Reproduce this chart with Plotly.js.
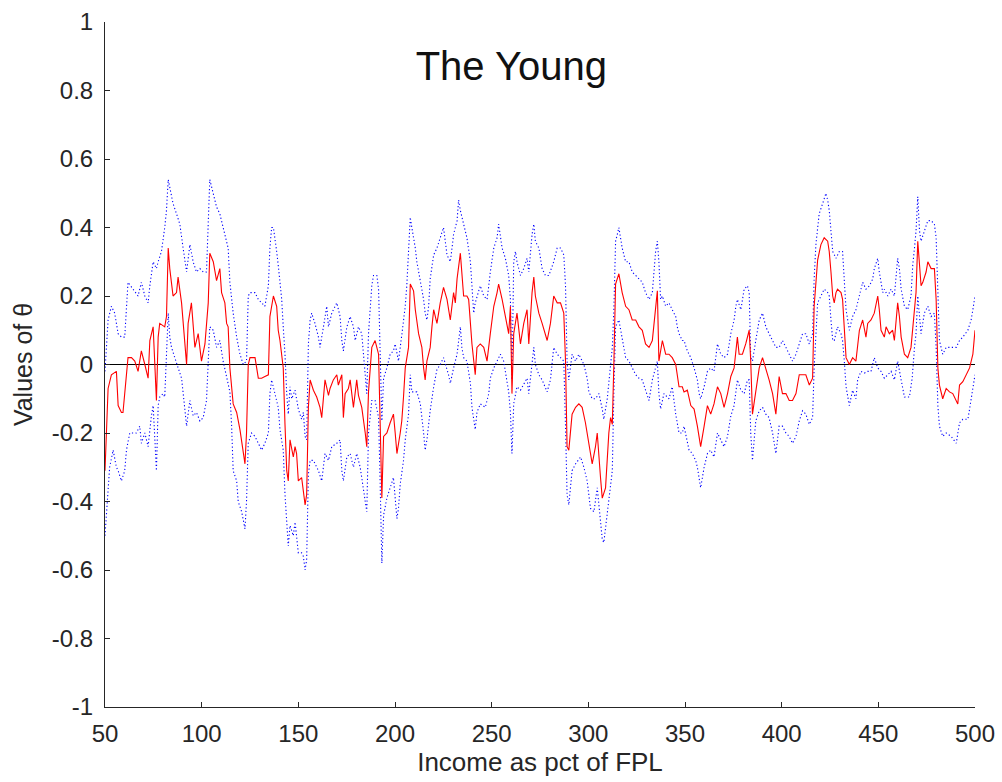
<!DOCTYPE html>
<html>
<head>
<meta charset="utf-8">
<script src="https://cdn.plot.ly/plotly-3.0.1.min.js"></script>
<style>
  html, body { margin: 0; padding: 0; background: #fff; }
  #chart { width: 1002px; height: 782px; }
</style>
</head>
<body>
<div id="chart"></div>
<script>
// Estimated theta along income (% of FPL), with upper and lower bands.
const midIncome = [
  50, 51.6, 53.3, 55.9, 56.8, 58.5, 59.3, 61.1, 61.9, 63.7,
  65.4, 67.1, 68.8, 70.6, 72.3, 73.2, 74.9, 76.6, 77.5, 78.3,
  80.9, 81.8, 82.7, 83.5, 85.2, 87.0, 87.8, 89.6, 91.3, 92.2,
  93.0, 94.7, 96.5, 98.2, 99.9, 101.7, 103.4, 104.2, 106.0, 107.7,
  109.4, 110.3, 112.0, 112.9, 113.7, 114.6, 116.3, 118.1, 119.8, 121.5,
  122.4, 123.2, 124.1, 125.0, 127.6, 129.3, 131.0, 132.7, 134.5, 135.3,
  137.1, 138.8, 139.6, 140.5, 142.2, 143.1, 144.0, 144.8, 145.7, 147.4,
  148.3, 149.1, 150.0, 151.7, 153.5, 154.3, 155.2, 156.1, 157.8, 159.5,
  161.2, 162.1, 163.8, 165.6, 166.4, 168.1, 169.9, 170.7, 172.5, 173.3,
  174.2, 175.9, 176.8, 178.5, 180.2, 181.1, 182.8, 184.6, 185.4, 186.3,
  188.0, 189.7, 191.5, 192.3, 193.2, 194.1, 195.8, 197.5, 199.2, 200.1,
  201.0, 202.7, 203.5, 204.4, 205.3, 207.0, 207.9, 209.6, 210.5, 212.2,
  213.9, 214.8, 215.6, 216.5, 218.2, 219.1, 220.0, 221.7, 223.4, 225.1,
  226.9, 228.6, 230.3, 231.2, 232.1, 233.8, 234.6, 235.5, 237.2, 238.1,
  239.8, 241.5, 242.4, 244.1, 245.9, 247.6, 249.3, 251.1, 252.8, 253.6,
  255.4, 257.1, 258.8, 259.7, 260.5, 261.4, 263.1, 264.9, 266.6, 268.3,
  269.2, 270.9, 271.8, 272.6, 274.4, 276.1, 278.7, 280.4, 282.1, 283.9,
  285.6, 287.3, 288.2, 289.0, 289.9, 291.6, 293.4, 295.1, 296.8, 298.5,
  300.3, 302.0, 303.7, 304.6, 306.3, 307.2, 308.9, 309.8, 310.6, 311.5,
  312.4, 313.2, 314.1, 315.8, 317.5, 319.3, 321.0, 322.7, 324.5, 326.2,
  327.9, 329.6, 331.4, 333.1, 334.0, 335.7, 336.5, 338.3, 340.0, 341.7,
  343.4, 345.2, 346.9, 348.6, 349.5, 351.2, 353.0, 354.7, 356.4, 358.1,
  359.9, 361.6, 363.3, 365.0, 366.8, 368.5, 370.2, 372.0, 373.7, 375.4,
  377.1, 378.0, 379.7, 381.4, 383.2, 384.0, 384.9, 386.6, 388.4, 390.1,
  391.8, 393.5, 395.3, 397.0, 398.7, 400.4, 402.2, 403.9, 405.6, 407.4,
  409.1, 410.8, 412.5, 414.3, 416.0, 416.8, 417.7, 418.6, 420.3, 422.0,
  423.8, 424.6, 425.5, 426.4, 427.2, 428.1, 428.9, 430.7, 431.5, 432.4,
  433.3, 435.0, 436.7, 438.4, 439.3, 440.2, 441.9, 443.6, 444.5, 446.2,
  447.9, 449.7, 450.5, 451.4, 453.1, 454.0, 455.7, 457.4, 458.3, 460.0,
  460.9, 461.8, 463.5, 465.2, 466.9, 467.8, 468.7, 469.5, 470.4, 471.3,
  472.1, 473.0, 474.7, 475.6, 477.3, 479.0, 479.9, 480.8, 481.6, 483.3,
  485.1, 486.8, 488.5, 491.1, 492.0, 493.7, 495.4, 497.2, 498.9, 499.5,
  500
];
const midTheta = [
  -0.31, -0.07, -0.03, -0.02, -0.12, -0.14, -0.14, -0.03, 0.02, 0.02,
  0.01, -0.02, 0.04, 0.0, -0.04, 0.07, 0.11, -0.105, 0.08, 0.12,
  0.11, 0.14, 0.34, 0.28, 0.2, 0.21, 0.255, 0.18, 0.05, 0.0,
  0.12, 0.18, 0.05, 0.09, 0.01, 0.06, 0.18, 0.325, 0.3, 0.245,
  0.28, 0.21, 0.18, 0.12, 0.11, -0.01, -0.115, -0.14, -0.19, -0.25,
  -0.29, -0.2, 0.0, 0.02, 0.02, -0.04, -0.04, -0.035, -0.03, 0.14,
  0.2, 0.17, 0.1, 0.07, -0.01, -0.175, -0.31, -0.34, -0.22, -0.27,
  -0.24, -0.26, -0.34, -0.33, -0.41, -0.38, -0.125, -0.045, -0.075, -0.095,
  -0.125, -0.155, -0.045, -0.09, -0.07, -0.045, -0.03, -0.06, -0.03, -0.155,
  -0.085, -0.07, -0.045, -0.125, -0.045, -0.09, -0.125, -0.2, -0.24, -0.08,
  0.05, 0.07, 0.03, -0.165, -0.39, -0.21, -0.2, -0.17, -0.145, -0.2,
  -0.26, -0.2, -0.165, -0.095, -0.01, 0.05, 0.235, 0.215, 0.16, 0.09,
  0.05, -0.01, -0.045, 0.01, 0.05, 0.11, 0.16, 0.12, 0.18, 0.225,
  0.19, 0.13, 0.21, 0.18, 0.25, 0.325, 0.27, 0.2, 0.2, 0.19,
  0.06, -0.03, 0.05, 0.06, 0.05, 0.01, 0.09, 0.17, 0.21, 0.235,
  0.19, 0.14, 0.09, 0.17, -0.085, 0.09, 0.15, 0.06, 0.12, 0.16,
  0.06, 0.21, 0.255, 0.2, 0.15, 0.12, 0.07, 0.12, 0.2, 0.18,
  0.18, 0.15, 0.01, -0.24, -0.25, -0.145, -0.125, -0.115, -0.125, -0.17,
  -0.23, -0.29, -0.24, -0.2, -0.33, -0.39, -0.36, -0.28, -0.2, -0.155,
  -0.175, 0.0, 0.235, 0.265, 0.21, 0.17, 0.16, 0.13, 0.13, 0.11,
  0.1, 0.06, 0.05, 0.07, 0.12, 0.215, 0.01, 0.07, 0.03, 0.03,
  0.02, 0.0, -0.065, -0.065, -0.08, -0.075, -0.12, -0.13, -0.18, -0.24,
  -0.18, -0.12, -0.145, -0.115, -0.065, -0.085, -0.125, -0.085, -0.035, -0.01,
  0.08, 0.03, 0.03, 0.06, 0.1, 0.01, -0.145, -0.075, -0.01, 0.02,
  -0.01, -0.045, -0.085, -0.145, -0.035, -0.085, -0.085, -0.105, -0.105, -0.085,
  -0.03, -0.03, -0.03, -0.06, -0.04, 0.17, 0.235, 0.305, 0.35, 0.37,
  0.36, 0.33, 0.27, 0.2, 0.18, 0.21, 0.22, 0.21, 0.19, 0.1,
  0.02, 0.0, 0.02, 0.01, 0.06, 0.1, 0.13, 0.08, 0.12, 0.13,
  0.15, 0.2, 0.16, 0.1, 0.08, 0.11, 0.09, 0.1, 0.07, 0.18,
  0.14, 0.08, 0.03, 0.02, 0.05, 0.11, 0.17, 0.21, 0.36, 0.28,
  0.23, 0.24, 0.27, 0.3, 0.28, 0.28, 0.19, -0.01, -0.06, -0.1,
  -0.07, -0.08, -0.085, -0.115, -0.06, -0.05, -0.03, -0.01, 0.03, 0.07,
  0.1
];

const upIncome = [
  50, 51.6, 53.3, 55.0, 56.8, 58.5, 60.2, 61.9, 64.5, 67.1,
  68.8, 70.6, 72.3, 73.2, 74.9, 76.6, 77.5, 79.2, 80.9, 81.8,
  82.7, 83.5, 85.2, 87.0, 88.7, 90.4, 92.2, 93.9, 95.6, 97.3,
  99.1, 100.8, 102.5, 104.2, 106.0, 107.7, 109.4, 111.1, 112.9, 113.7,
  114.6, 116.3, 118.1, 119.8, 121.5, 123.2, 124.1, 125.0, 127.6, 129.3,
  132.7, 134.5, 135.3, 136.2, 137.1, 137.9, 138.8, 139.6, 140.5, 141.4,
  142.2, 143.1, 144.0, 144.8, 145.7, 146.6, 148.3, 150.0, 151.7, 152.6,
  153.5, 154.3, 155.2, 156.1, 156.9, 158.6, 160.4, 161.2, 163.0, 164.7,
  165.6, 167.3, 169.9, 171.6, 172.5, 173.3, 175.1, 176.8, 178.5, 179.4,
  181.1, 182.8, 183.7, 184.6, 185.4, 186.3, 187.1, 188.0, 188.9, 190.6,
  191.5, 192.3, 193.2, 194.1, 195.8, 197.5, 199.2, 200.1, 201.8, 203.6,
  205.3, 206.1, 207.0, 207.9, 208.7, 209.6, 210.5, 211.3, 212.2, 213.1,
  214.8, 215.6, 216.5, 217.4, 218.2, 220.0, 221.7, 223.4, 225.1, 226.9,
  228.6, 229.5, 230.3, 232.1, 232.9, 233.8, 235.5, 237.2, 239.0, 239.8,
  240.7, 241.5, 242.4, 244.1, 245.9, 247.6, 248.5, 249.3, 251.1, 252.8,
  253.6, 255.4, 257.1, 258.0, 258.8, 259.7, 260.5, 261.4, 262.3, 263.1,
  264.9, 266.6, 268.3, 269.2, 270.9, 271.8, 272.6, 274.4, 276.1, 277.8,
  279.6, 282.1, 283.9, 285.6, 287.3, 288.2, 289.0, 289.9, 291.6, 293.4,
  295.1, 297.7, 299.4, 300.3, 302.0, 303.7, 305.5, 307.2, 308.0, 309.8,
  311.5, 312.4, 313.2, 314.1, 315.0, 315.8, 317.5, 319.3, 321.0, 322.7,
  324.5, 326.2, 327.9, 329.6, 331.4, 333.1, 334.0, 334.8, 335.7, 336.5,
  337.4, 338.3, 340.0, 341.7, 343.4, 345.2, 346.0, 346.9, 348.6, 349.5,
  351.2, 353.0, 354.7, 356.4, 357.3, 358.1, 359.9, 361.6, 363.3, 365.0,
  366.8, 368.5, 370.2, 372.0, 373.7, 375.4, 376.3, 377.1, 378.9, 380.6,
  382.3, 383.2, 384.0, 384.9, 386.6, 388.4, 390.1, 391.8, 393.5, 395.3,
  397.0, 398.7, 400.4, 402.2, 403.9, 405.6, 407.4, 409.1, 410.8, 412.5,
  414.3, 416.0, 416.8, 417.7, 418.6, 419.4, 421.2, 422.9, 423.8, 424.6,
  425.5, 426.4, 428.1, 429.8, 431.5, 432.4, 433.3, 435.0, 436.7, 438.4,
  440.2, 441.9, 443.6, 445.4, 447.1, 447.9, 449.7, 450.5, 452.3, 453.1,
  454.9, 456.6, 458.3, 459.2, 460.0, 460.9, 461.8, 463.5, 465.2, 466.9,
  467.8, 468.7, 469.5, 470.4, 471.3, 472.1, 473.8, 475.6, 477.3, 479.0,
  479.9, 480.8, 481.6, 483.3, 485.1, 487.7, 490.3, 492.0, 493.7, 496.3,
  498.0, 498.9, 500
];
const upTheta = [
  -0.02, 0.13, 0.17, 0.15, 0.09, 0.08, 0.08, 0.24, 0.22, 0.2,
  0.24, 0.2, 0.18, 0.23, 0.3, 0.28, 0.3, 0.33, 0.4, 0.45,
  0.54, 0.52, 0.47, 0.44, 0.41, 0.34, 0.27, 0.35, 0.3, 0.27,
  0.28, 0.27, 0.27, 0.54, 0.5, 0.46, 0.44, 0.4, 0.36, 0.34,
  0.24, 0.15, 0.08, 0.03, 0.0, 0.01, 0.2, 0.21, 0.21, 0.19,
  0.17, 0.23, 0.34, 0.4, 0.4, 0.37, 0.33, 0.29, 0.24, 0.19,
  0.11, 0.03, -0.085, -0.145, -0.065, -0.1, -0.075, -0.13, -0.16, -0.14,
  -0.21, -0.22, 0.06, 0.13, 0.15, 0.12, 0.08, 0.05, 0.11, 0.17,
  0.11, 0.15, 0.18, 0.14, 0.07, 0.04, 0.11, 0.14, 0.11, 0.07,
  0.11, 0.09, 0.03, -0.03, -0.085, 0.09, 0.17, 0.23, 0.26, 0.26,
  0.22, 0.05, -0.165, -0.04, -0.01, 0.03, 0.04, 0.06, 0.01, 0.09,
  0.17, 0.23, 0.33, 0.43, 0.4, 0.37, 0.34, 0.3, 0.27, 0.25,
  0.19, 0.15, 0.13, 0.17, 0.25, 0.32, 0.34, 0.37, 0.4, 0.32,
  0.3, 0.34, 0.38, 0.42, 0.48, 0.45, 0.41, 0.37, 0.3, 0.23,
  0.15, 0.18, 0.2, 0.23, 0.2, 0.19, 0.23, 0.27, 0.34, 0.37,
  0.41, 0.34, 0.31, 0.28, 0.26, 0.19, -0.045, 0.3, 0.33, 0.3,
  0.26, 0.28, 0.31, 0.27, 0.38, 0.41, 0.36, 0.34, 0.28, 0.26,
  0.26, 0.3, 0.34, 0.34, 0.32, 0.23, 0.01, -0.045, 0.03, 0.01,
  0.03, 0.0, -0.04, -0.08, -0.1, -0.1, -0.085, -0.13, -0.16, -0.1,
  0.01, 0.05, 0.16, 0.36, 0.38, 0.4, 0.34, 0.3, 0.3, 0.27,
  0.26, 0.25, 0.24, 0.21, 0.19, 0.21, 0.27, 0.33, 0.36, 0.3,
  0.19, 0.2, 0.17, 0.18, 0.16, 0.14, 0.11, 0.09, 0.07, 0.07,
  0.04, 0.02, -0.01, -0.045, -0.085, -0.1, -0.065, -0.02, -0.01, -0.02,
  0.06, 0.03, 0.02, 0.03, 0.09, 0.13, 0.17, 0.19, 0.16, 0.22,
  0.23, 0.21, 0.02, 0.01, 0.07, 0.13, 0.15, 0.11, 0.09, 0.07,
  0.05, 0.05, 0.07, 0.05, 0.03, 0.01, 0.03, 0.06, 0.09, 0.09,
  0.06, 0.09, 0.25, 0.35, 0.4, 0.44, 0.47, 0.5, 0.48, 0.45,
  0.39, 0.33, 0.31, 0.33, 0.33, 0.25, 0.16, 0.1, 0.14, 0.16,
  0.2, 0.24, 0.22, 0.23, 0.25, 0.28, 0.31, 0.27, 0.21, 0.22,
  0.2, 0.22, 0.2, 0.25, 0.31, 0.28, 0.22, 0.17, 0.16, 0.2,
  0.29, 0.34, 0.39, 0.49, 0.39, 0.36, 0.39, 0.42, 0.42, 0.41,
  0.37, 0.2, 0.07, 0.03, 0.05, 0.05, 0.05, 0.07, 0.08, 0.1,
  0.13, 0.16, 0.2
];

const loIncome = [
  50, 51.6, 52.4, 54.2, 55.9, 56.8, 58.5, 60.2, 61.1, 62.8,
  64.5, 66.2, 68.0, 68.8, 70.6, 72.3, 74.0, 74.9, 76.6, 77.5,
  78.3, 80.1, 80.9, 81.8, 82.7, 83.5, 84.4, 86.1, 87.8, 89.6,
  91.3, 92.2, 93.9, 95.6, 97.3, 99.1, 100.8, 102.5, 104.2, 106.0,
  107.7, 109.4, 111.1, 112.9, 114.6, 115.5, 116.3, 118.1, 118.9, 120.7,
  122.4, 123.2, 124.1, 125.8, 127.6, 129.3, 131.0, 132.7, 134.5, 135.3,
  136.2, 137.9, 139.6, 140.5, 142.2, 143.1, 144.0, 144.8, 145.7, 147.4,
  148.3, 150.0, 151.7, 152.6, 153.5, 154.3, 155.2, 156.1, 157.8, 160.4,
  162.1, 163.8, 165.6, 167.3, 169.9, 171.6, 172.5, 173.3, 175.1, 176.8,
  178.5, 180.2, 182.0, 183.7, 185.4, 186.3, 188.0, 189.7, 191.5, 192.3,
  193.2, 194.1, 195.8, 197.5, 199.2, 201.0, 201.8, 202.7, 204.4, 205.3,
  207.0, 207.9, 208.7, 211.3, 213.1, 214.8, 215.6, 216.5, 218.2, 220.0,
  221.7, 223.4, 225.1, 227.7, 228.6, 230.3, 232.1, 233.8, 234.6, 235.5,
  237.2, 239.0, 239.8, 241.5, 242.4, 244.1, 246.7, 248.5, 249.3, 251.1,
  252.8, 254.5, 256.2, 258.0, 258.8, 259.7, 260.5, 261.4, 263.1, 264.9,
  266.6, 268.3, 269.2, 270.9, 271.8, 272.6, 274.4, 276.1, 278.7, 280.4,
  282.1, 283.9, 285.6, 287.3, 288.2, 289.0, 289.9, 291.6, 293.4, 296.0,
  297.7, 299.4, 301.1, 302.9, 304.6, 306.3, 307.2, 308.0, 309.8, 310.6,
  312.4, 313.2, 314.1, 315.8, 317.5, 319.3, 321.0, 322.7, 324.5, 326.2,
  327.9, 329.6, 331.4, 333.1, 334.8, 335.7, 336.5, 337.4, 339.1, 341.7,
  343.4, 345.2, 346.9, 348.6, 349.5, 352.1, 353.8, 355.5, 356.4, 357.3,
  358.1, 359.9, 361.6, 363.3, 365.0, 366.8, 368.5, 370.2, 372.0, 373.7,
  375.4, 377.1, 378.9, 380.6, 382.3, 383.2, 384.0, 384.9, 386.6, 388.4,
  390.1, 391.8, 393.5, 395.3, 397.0, 398.7, 400.4, 402.2, 403.9, 405.6,
  407.4, 409.1, 410.8, 412.5, 414.3, 416.0, 416.8, 417.7, 418.6, 420.3,
  422.0, 423.8, 424.6, 425.5, 426.4, 427.2, 428.9, 430.7, 431.5, 432.4,
  433.3, 435.0, 436.7, 438.4, 439.3, 441.0, 442.8, 444.5, 446.2, 447.9,
  449.7, 451.4, 453.1, 454.9, 456.6, 458.3, 460.0, 461.8, 463.5, 466.1,
  467.5, 468.7, 469.5, 470.4, 471.3, 472.1, 473.8, 475.6, 477.3, 479.0,
  479.9, 480.8, 481.6, 483.3, 485.1, 487.7, 490.3, 492.0, 493.7, 496.3,
  497.2, 498.0, 498.9, 500
];
const loTheta = [
  -0.5, -0.37, -0.3, -0.25, -0.3, -0.31, -0.34, -0.31, -0.25, -0.2,
  -0.2, -0.2, -0.18, -0.23, -0.2, -0.24, -0.15, -0.12, -0.31, -0.12,
  -0.095, -0.085, -0.095, 0.05, 0.15, 0.08, 0.05, 0.02, -0.01, -0.04,
  -0.13, -0.18, -0.105, -0.15, -0.14, -0.165, -0.155, -0.105, 0.11, 0.1,
  0.05, 0.07, 0.01, -0.04, -0.08, -0.18, -0.31, -0.34, -0.4, -0.43,
  -0.48, -0.4, -0.23, -0.2, -0.21, -0.23, -0.25, -0.23, -0.2, -0.085,
  -0.045, -0.085, -0.125, -0.19, -0.25, -0.38, -0.47, -0.53, -0.47, -0.5,
  -0.46, -0.55, -0.55, -0.56, -0.6, -0.57, -0.32, -0.28, -0.28, -0.31,
  -0.34, -0.26, -0.28, -0.24, -0.23, -0.22, -0.31, -0.34, -0.27, -0.26,
  -0.3, -0.26, -0.3, -0.37, -0.43, -0.2, -0.105, -0.105, -0.155, -0.34,
  -0.58, -0.44, -0.39, -0.36, -0.33, -0.45, -0.42, -0.35, -0.28, -0.22,
  -0.145, -0.03, -0.08, -0.08, -0.115, -0.2, -0.25, -0.22, -0.135, -0.065,
  -0.015, 0.0, 0.02, -0.03, -0.055, -0.01, 0.03, 0.11, 0.05, 0.02,
  0.01, -0.055, -0.125, -0.19, -0.14, -0.115, -0.125, -0.085, -0.04, -0.01,
  0.01, 0.03, 0.01, -0.045, -0.08, -0.14, -0.26, -0.115, -0.065, -0.075,
  -0.055, -0.04, -0.085, 0.01, 0.05, 0.0, -0.03, -0.045, -0.08, -0.045,
  0.05, 0.03, 0.02, 0.01, -0.18, -0.38, -0.41, -0.31, -0.29, -0.27,
  -0.3, -0.34, -0.42, -0.43, -0.36, -0.46, -0.51, -0.52, -0.44, -0.39,
  -0.31, -0.085, 0.11, 0.13, 0.07, 0.02, 0.01, -0.01, -0.03, -0.04,
  -0.045, -0.075, -0.105, -0.045, -0.01, 0.01, -0.085, -0.13, -0.085, -0.1,
  -0.065, -0.145, -0.2, -0.2, -0.18, -0.25, -0.26, -0.28, -0.3, -0.33,
  -0.36, -0.3, -0.26, -0.25, -0.27, -0.2, -0.22, -0.24, -0.21, -0.15,
  -0.12, -0.045, -0.075, -0.085, -0.045, -0.045, -0.2, -0.28, -0.165, -0.135,
  -0.125, -0.145, -0.155, -0.2, -0.26, -0.18, -0.18, -0.2, -0.21, -0.23,
  -0.21, -0.165, -0.135, -0.145, -0.175, -0.155, -0.01, 0.11, 0.18, 0.2,
  0.22, 0.21, 0.2, 0.13, 0.07, 0.07, 0.11, 0.09, 0.07, 0.01,
  -0.065, -0.12, -0.075, -0.1, -0.045, -0.02, -0.025, -0.02, -0.02, 0.02,
  -0.01, -0.02, -0.04, -0.03, -0.02, -0.045, 0.01, -0.045, -0.095, -0.095,
  -0.04, 0.05, 0.09, 0.2, 0.15, 0.09, 0.15, 0.17, 0.14, 0.15,
  0.05, -0.12, -0.18, -0.21, -0.2, -0.21, -0.23, -0.17, -0.16, -0.16,
  -0.13, -0.1, -0.08, -0.03
];

const xTicks = [50, 100, 150, 200, 250, 300, 350, 400, 450, 500];
const yTicks = [-1, -0.8, -0.6, -0.4, -0.2, 0, 0.2, 0.4, 0.6, 0.8, 1];
const yTickText = ['-1', '-0.8', '-0.6', '-0.4', '-0.2', '0', '0.2', '0.4', '0.6', '0.8', '1'];

const bandLine = { color: '#0000ff', width: 1.1, dash: '1.2px,2.4px' };

const traces = [
  { x: upIncome, y: upTheta, type: 'scatter', mode: 'lines', line: bandLine, hoverinfo: 'skip' },
  { x: loIncome, y: loTheta, type: 'scatter', mode: 'lines', line: bandLine, hoverinfo: 'skip' },
  { x: midIncome, y: midTheta, type: 'scatter', mode: 'lines', line: { color: '#ff0000', width: 1.1 } }
];

const FONT = 'Liberation Sans, Arial, sans-serif';
const tickFont = { family: FONT, size: 24, color: '#262626' };

const layout = {
  width: 1002,
  height: 782,
  margin: { l: 105, r: 27, t: 22, b: 75 },
  paper_bgcolor: '#ffffff',
  plot_bgcolor: '#ffffff',
  showlegend: false,
  title: {
    text: 'The Young',
    font: { family: FONT, size: 40, color: '#111' },
    xref: 'paper', x: 0.467, xanchor: 'center',
    yref: 'container', y: 0.915, yanchor: 'middle'
  },
  xaxis: {
    range: [50, 500],
    tickmode: 'array', tickvals: xTicks, ticktext: xTicks.map(String),
    ticks: 'inside', ticklen: 5, tickwidth: 1, tickcolor: '#262626',
    showline: true, linecolor: '#262626', linewidth: 1, mirror: false,
    showgrid: false, zeroline: false,
    tickfont: tickFont, ticklabelstandoff: 5,
    title: { text: 'Income as pct of FPL', font: { family: FONT, size: 26, color: '#262626' }, standoff: 6 }
  },
  yaxis: {
    range: [-1, 1],
    tickmode: 'array', tickvals: yTicks, ticktext: yTickText,
    ticks: 'inside', ticklen: 5, tickwidth: 1, tickcolor: '#262626',
    showline: true, linecolor: '#262626', linewidth: 1, mirror: false,
    showgrid: false,
    zeroline: true, zerolinecolor: '#000', zerolinewidth: 1.4,
    layer: 'above traces',
    tickfont: tickFont, ticklabelstandoff: 6,
    title: { text: 'Values of θ', font: { family: FONT, size: 25, color: '#262626' }, standoff: 12 }
  }
};

Plotly.newPlot('chart', traces, layout, { displayModeBar: false, staticPlot: true });
</script>
</body>
</html>
